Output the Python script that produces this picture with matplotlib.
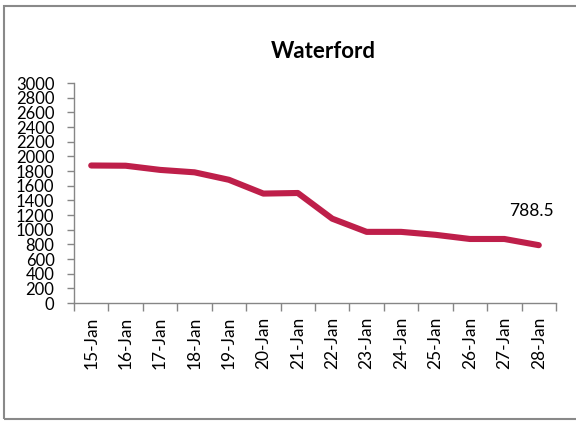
import matplotlib
matplotlib.use("Agg")
import matplotlib.pyplot as plt
from matplotlib.patches import Rectangle

dates = ["15-Jan", "16-Jan", "17-Jan", "18-Jan", "19-Jan", "20-Jan", "21-Jan",
         "22-Jan", "23-Jan", "24-Jan", "25-Jan", "26-Jan", "27-Jan", "28-Jan"]
values = [1875, 1872, 1815, 1782, 1680, 1492, 1500, 1150, 970, 970, 930, 873, 873, 788.5]
yticks = list(range(0, 3001, 200))
title = "Waterford"
last_label = "788.5"

plt.rcParams['font.family'] = ['Lato', 'DejaVu Sans']

W, H = 576, 421
fig = plt.figure(figsize=(W / 100, H / 100), dpi=100)
fig.patch.set_facecolor("white")

# outer border
fig.patches.append(Rectangle((3.5 / W, 1 - 419 / H), (600 - 3.5) / W, (419 - 5.5) / H,
                             transform=fig.transFigure, fill=False,
                             edgecolor="#898989", linewidth=1.5, clip_on=False))

ax = fig.add_axes([74 / W, 1 - 303 / H, (556 - 74) / W, (303 - 83) / H])
x = list(range(len(dates)))
ax.plot(x, values, color="#BE1F4A", linewidth=4.4, solid_capstyle="round",
        solid_joinstyle="round")

ax.set_xlim(-0.5, len(dates) - 0.5)
ax.set_ylim(0, 3000)
ax.set_yticks(yticks)
ax.set_yticklabels([str(v) for v in yticks], fontsize=12)
ax.set_xticks(x)
ax.set_xticklabels(dates, rotation=90, fontsize=12.5)
ax.set_xticks([i - 0.5 for i in range(len(dates) + 1)], minor=True)
ax.tick_params(axis="x", which="major", length=0, pad=10)
ax.tick_params(axis="x", which="minor", length=6, color="#868686", width=1)
ax.tick_params(axis="y", length=5, color="#868686", width=1, pad=9)

for s in ["top", "right"]:
    ax.spines[s].set_visible(False)
for s in ["left", "bottom"]:
    ax.spines[s].set_color("#868686")
    ax.spines[s].set_linewidth(1)

ax.annotate(last_label, (x[-1], values[-1]), xytext=(-7, 34),
            textcoords="offset pixels", ha="center", va="center",
            fontsize=12.5, color="black")

fig.text(323 / W, 1 - 52 / H, title, ha="center", va="center",
         fontsize=16, fontweight="bold")

fig.savefig("out.png", dpi=100)
